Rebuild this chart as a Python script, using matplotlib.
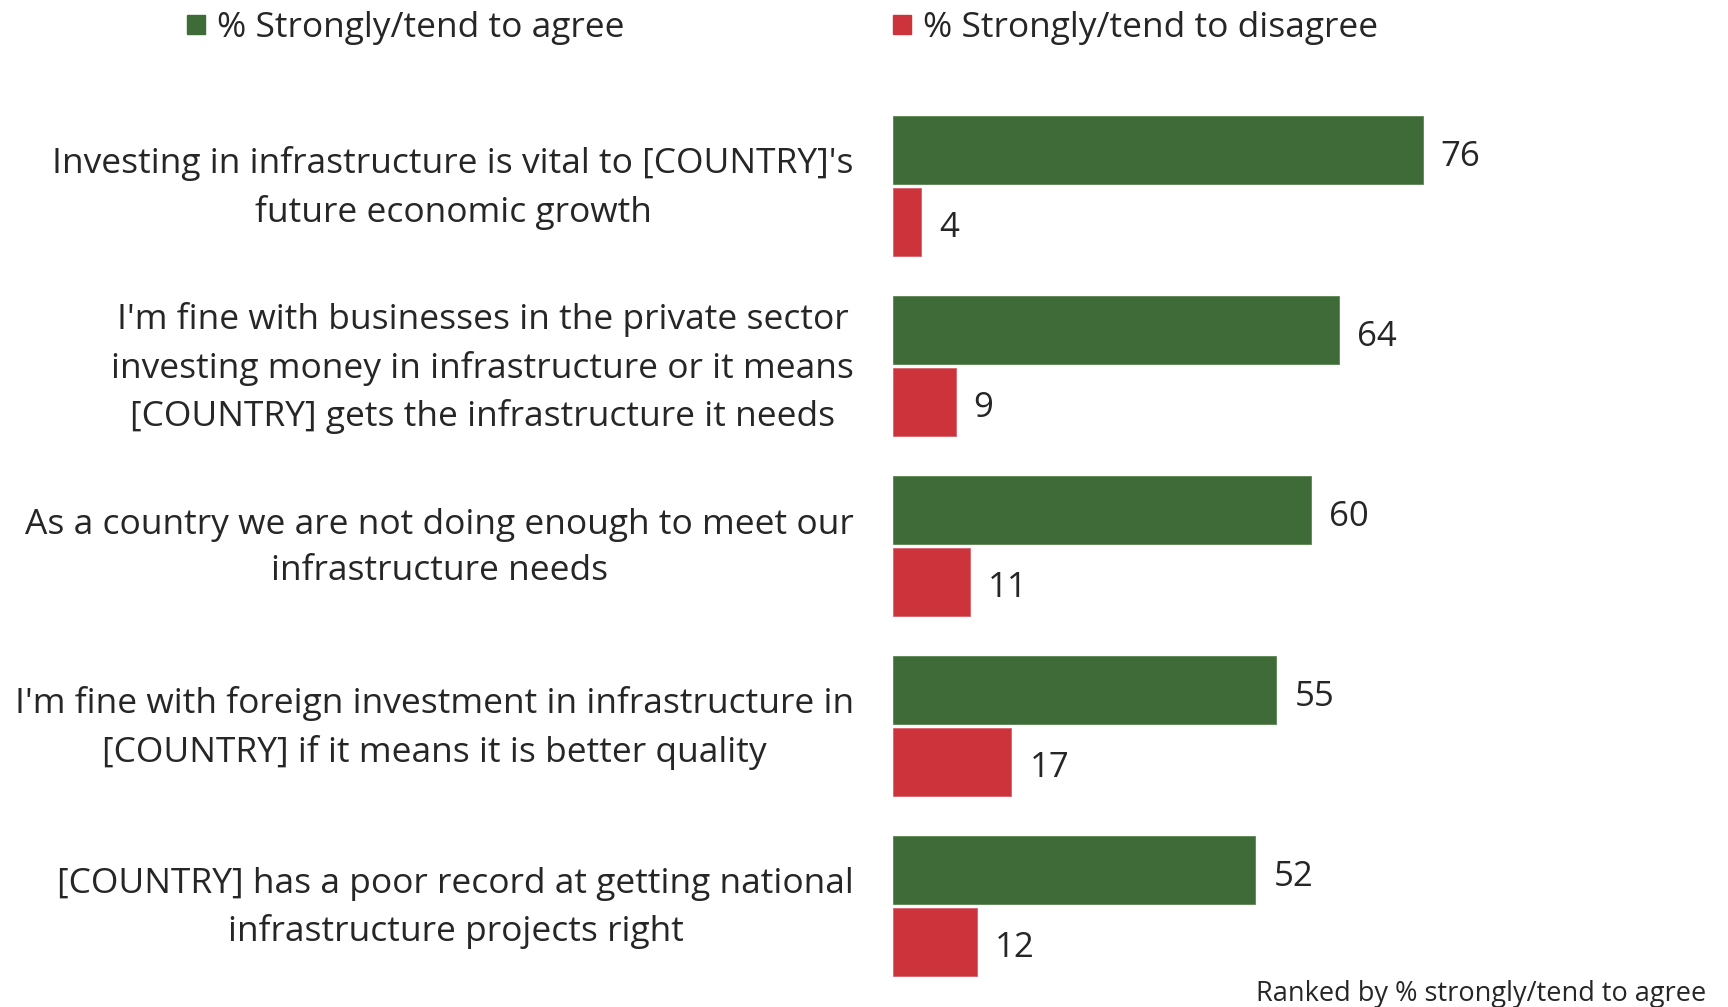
import numpy as np
import matplotlib
matplotlib.use('Agg')
import matplotlib.pyplot as plt

plt.rcParams['font.family'] = ['Open Sans', 'DejaVu Sans']

# Daten
statements = [
    "Investing in infrastructure is vital to [COUNTRY]'s\nfuture economic growth",
    "I'm fine with businesses in the private sector\ninvesting money in infrastructure or it means\n[COUNTRY] gets the infrastructure it needs",
    "As a country we are not doing enough to meet our\ninfrastructure needs",
    "I'm fine with foreign investment in infrastructure in\n[COUNTRY] if it means it is better quality",
    "[COUNTRY] has a poor record at getting national\ninfrastructure projects right",
]
agree = [76, 64, 60, 55, 52]
disagree = [4, 9, 11, 17, 12]
legend_labels = ['% Strongly/tend to agree', '% Strongly/tend to disagree']
note = 'Ranked by % strongly/tend to agree'

green = '#3e6b37'
red = '#cc333b'
textcol = '#262626'

fig = plt.figure(figsize=(17.28, 10.07), dpi=100)
ax = fig.add_axes([893/1728, 1 - 996/1007, 697/1728, 900/1007])

y = np.arange(len(statements))
h = 0.378
ax.barh(y - 0.2, agree, height=h, color=green, edgecolor='#5a8552', linewidth=0.6)
ax.barh(y + 0.2, disagree, height=h, color=red, edgecolor='#d9606a', linewidth=0.6)

for yi, a, d in zip(y, agree, disagree):
    ax.annotate(str(a), (a, yi - 0.2), xytext=(18, -3), textcoords='offset pixels',
                va='center_baseline', ha='left', fontsize=25, color=textcol)
    ax.annotate(str(d), (d, yi + 0.2), xytext=(18, -2), textcoords='offset pixels',
                va='center_baseline', ha='left', fontsize=25, color=textcol)
    ax.annotate(statements[yi], (0, yi), xytext=(-39, -2), textcoords='offset pixels',
                va='center', ha='right', multialignment='center',
                fontsize=25.5, color=textcol, linespacing=1.5)

ax.set_xlim(0, 100)
ax.set_ylim(4.5, -0.5)
ax.axis('off')

# Legende von Hand
fig.patches.append(plt.Rectangle((187/1728, 1 - 34/1007), 18/1728, 19/1007,
                                 transform=fig.transFigure, color=green))
fig.text(217/1728, 1 - 24/1007, legend_labels[0], fontsize=25.5, color=textcol, va='center_baseline')
fig.patches.append(plt.Rectangle((893/1728, 1 - 34/1007), 18/1728, 19/1007,
                                 transform=fig.transFigure, color=red))
fig.text(923/1728, 1 - 24/1007, legend_labels[1], fontsize=25.5, color=textcol, va='center_baseline')

fig.text(1706/1728, 1 - 994/1007, note, fontsize=19.5, color=textcol, ha='right', va='center')

plt.savefig('out.png', dpi=100)
